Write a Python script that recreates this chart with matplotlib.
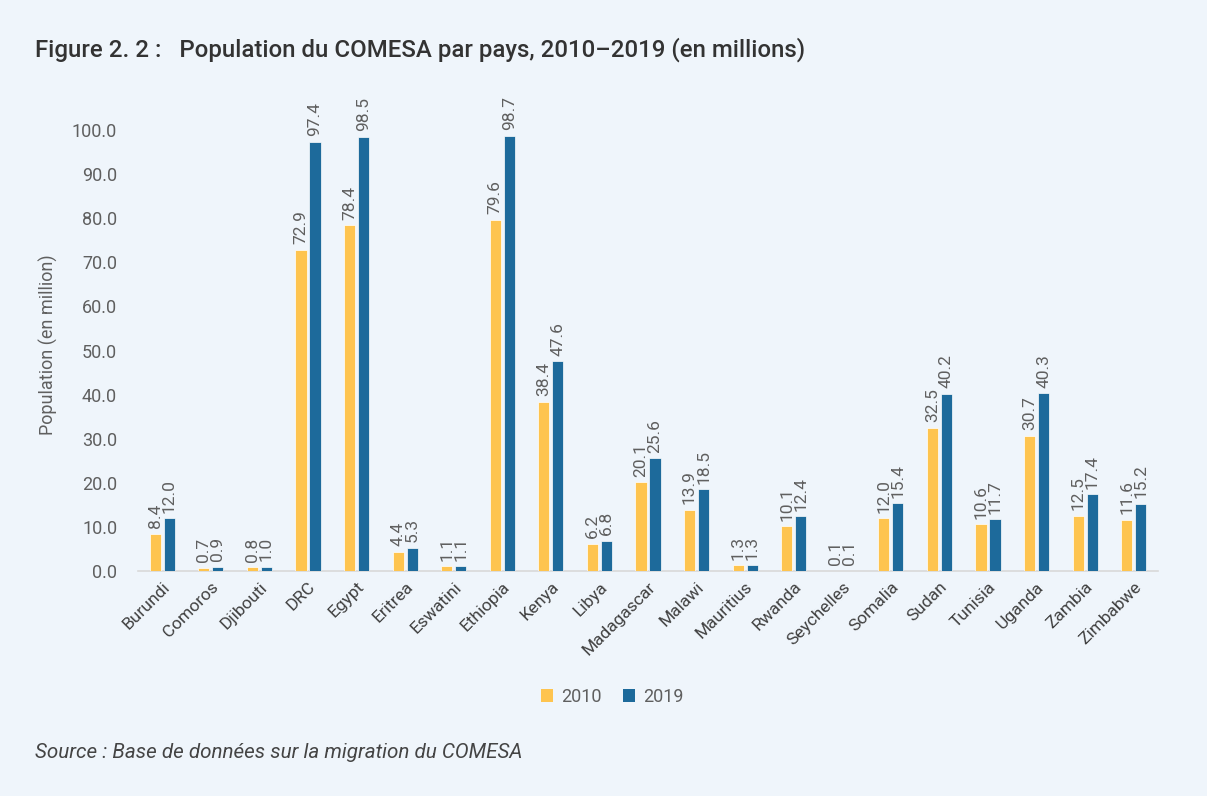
import matplotlib
matplotlib.use("Agg")
import matplotlib.pyplot as plt
from matplotlib.patches import Patch
import numpy as np

countries = ["Burundi", "Comoros", "Djibouti", "DRC", "Egypt", "Eritrea", "Eswatini",
             "Ethiopia", "Kenya", "Libya", "Madagascar", "Malawi", "Mauritius", "Rwanda",
             "Seychelles", "Somalia", "Sudan", "Tunisia", "Uganda", "Zambia", "Zimbabwe"]
pop_2010 = [8.4, 0.7, 0.8, 72.9, 78.4, 4.4, 1.1, 79.6, 38.4, 6.2, 20.1, 13.9, 1.3, 10.1,
            0.1, 12.0, 32.5, 10.6, 30.7, 12.5, 11.6]
pop_2019 = [12.0, 0.9, 1.0, 97.4, 98.5, 5.3, 1.1, 98.7, 47.6, 6.8, 25.6, 18.5, 1.3, 12.4,
            0.1, 15.4, 40.2, 11.7, 40.3, 17.4, 15.2]
series_labels = ["2010", "2019"]
yticks = [0, 10, 20, 30, 40, 50, 60, 70, 80, 90, 100]

BG = "#EFF5FB"
YELLOW = "#FEC44F"
BLUE = "#1D6A9B"
GRAY = "#5F5F5F"
DARK = "#404040"

plt.rcParams["font.family"] = ["Roboto", "DejaVu Sans"]

W, H = 1207, 796
fig = plt.figure(figsize=(W / 100, H / 100), dpi=100, facecolor=BG)

def px(x0, y0, x1, y1):
    return [x0 / W, 1 - y1 / H, (x1 - x0) / W, (y1 - y0) / H]

ax = fig.add_axes(px(138, 86, 1158, 571))
ax.set_facecolor(BG)

x = np.arange(len(countries))
bw = 0.23
off = 0.145
b1 = ax.bar(x - off, pop_2010, bw, color=YELLOW, edgecolor="white", linewidth=0.5, zorder=3)
b2 = ax.bar(x + off, pop_2019, bw, color=BLUE, edgecolor="white", linewidth=0.5, zorder=3)

for bars, vals in ((b1, pop_2010), (b2, pop_2019)):
    for r, v in zip(bars, vals):
        ax.annotate(f"{v:.1f}", (r.get_x() + r.get_width() / 2, v), xytext=(0, 4),
                    textcoords="offset points", rotation=90, ha="center", va="bottom",
                    fontsize=12.5, color=GRAY)

ax.set_xlim(-0.5, len(countries) - 0.5)
ax.set_ylim(0, 110)
ax.set_yticks(yticks)
ax.set_yticklabels([f"{t:.1f}" for t in yticks], fontsize=13, color=GRAY)
ax.set_xticks(x)
ax.set_xticklabels(countries, rotation=45, ha="right", rotation_mode="anchor",
                   fontsize=12.5, color=DARK)
ax.tick_params(axis="both", length=0)
ax.tick_params(axis="y", pad=15)
ax.tick_params(axis="x", pad=6)
for s in ("top", "right", "left"):
    ax.spines[s].set_visible(False)
ax.spines["bottom"].set_color("#D9D9D9")
ax.spines["bottom"].set_linewidth(1.2)

fig.text(48 / W, 1 - 345 / H, "Population (en million)", rotation=90, ha="center", va="center",
         fontsize=13, color=GRAY)

fig.text(35 / W, 1 - 50 / H, "Figure 2. 2 :   Population du COMESA par pays, 2010\u20132019 (en millions)",
         ha="left", va="center", fontsize=17.3, color="#333333", fontweight="medium")

fig.text(35 / W, 1 - 753 / H, "Source : Base de donn\u00e9es sur la migration du COMESA",
         ha="left", va="center", fontsize=14.9, color="#444444", style="italic")

handles = [Patch(facecolor=YELLOW, edgecolor="none"), Patch(facecolor=BLUE, edgecolor="none")]
leg = fig.legend(handles, series_labels, loc="center", bbox_to_anchor=(612 / W, 1 - 697 / H),
                 ncol=2, frameon=False, fontsize=13, handlelength=0.7, handleheight=0.7,
                 handletextpad=0.4, columnspacing=1.2)
for t in leg.get_texts():
    t.set_color(GRAY)

fig.savefig("out.png", dpi=100, facecolor=BG)
